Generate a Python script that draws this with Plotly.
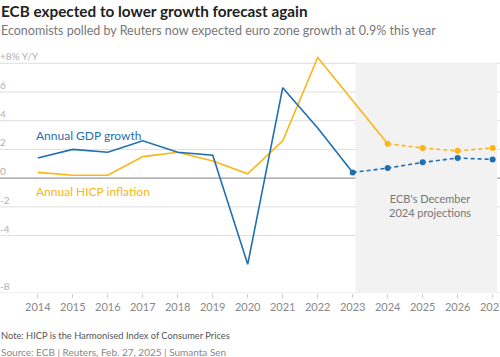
import plotly.graph_objects as go

years = list(range(2014, 2028))
gdp = [1.4, 2.0, 1.8, 2.6, 1.8, 1.6, -6.0, 6.3, 3.5, 0.4, 0.7, 1.1, 1.4, 1.3]
hicp = [0.4, 0.2, 0.2, 1.5, 1.8, 1.2, 0.3, 2.6, 8.4, 5.4, 2.4, 2.1, 1.9, 2.1]
y_ticks = [-8, -4, -2, 0, 2, 4, 6, 8]
y_labels = ["-8", "-4", "-2", "0", "2", "4", "6", "+8% Y/Y"]

BLUE = "#1f6fb2"
YELLOW = "#fbb515"
FONT = "Lato"
DASH = "4px,3px"

hist_end = years.index(2023)
proj_start_gdp = years.index(2023)
proj_start_hicp = years.index(2024)

fig = go.Figure()

# projection shading
fig.add_shape(type="rect", xref="x", yref="y", x0=2023.08, x1=2027.13, y0=-8, y1=8,
              fillcolor="#f2f2f2", line_width=0, layer="below")

# gridlines and y labels
for v, lab in zip(y_ticks, y_labels):
    fig.add_shape(type="line", xref="paper", yref="y", x0=0, x1=1, y0=v, y1=v,
                  line=dict(color="#9a9a9a" if v == 0 else "#dedede", width=1.2 if v == 0 else 1),
                  layer="below")
    fig.add_annotation(xref="paper", yref="y", x=0, y=v, text=lab,
                       showarrow=False, xanchor="left", yanchor="bottom", yshift=-1, xshift=-2,
                       font=dict(family=FONT, size=10, color="#b0b0b0"))

# HICP
fig.add_trace(go.Scatter(x=years[:proj_start_hicp + 1], y=hicp[:proj_start_hicp + 1], mode="lines",
                         line=dict(color=YELLOW, width=1.6), hoverinfo="skip"))
fig.add_trace(go.Scatter(x=years[proj_start_hicp:], y=hicp[proj_start_hicp:], mode="lines+markers",
                         line=dict(color=YELLOW, width=1.6, dash=DASH),
                         marker=dict(size=6, color=YELLOW), hoverinfo="skip"))
# GDP
fig.add_trace(go.Scatter(x=years[:hist_end + 1], y=gdp[:hist_end + 1], mode="lines",
                         line=dict(color=BLUE, width=1.6), hoverinfo="skip"))
fig.add_trace(go.Scatter(x=years[proj_start_gdp:], y=gdp[proj_start_gdp:], mode="lines+markers",
                         line=dict(color=BLUE, width=1.6, dash=DASH),
                         marker=dict(size=6, color=BLUE), hoverinfo="skip"))

fig.add_annotation(x=2013.9, y=2.95, xref="x", yref="y", text="Annual GDP growth", showarrow=False,
                   xanchor="left", yanchor="middle", font=dict(family=FONT, size=12, color=BLUE))
fig.add_annotation(x=2013.9, y=-0.95, xref="x", yref="y", text="Annual HICP inflation", showarrow=False,
                   xanchor="left", yanchor="middle", font=dict(family=FONT, size=12, color=YELLOW))
fig.add_annotation(x=2025.2, y=-1.9, xref="x", yref="y", text="ECB's December<br>2024 projections",
                   showarrow=False, xanchor="center", yanchor="middle", align="center",
                   font=dict(family=FONT, size=11, color="#777777"))

fig.update_layout(
    width=500, height=357,
    margin=dict(l=0, r=0, t=55, b=64, autoexpand=False),
    paper_bgcolor="white", plot_bgcolor="white",
    showlegend=False,
    xaxis=dict(range=[2012.92, 2027.21], tickmode="array", tickvals=years,
               ticktext=[str(y) for y in years], showgrid=False, zeroline=False,
               ticks="outside", ticklen=4, tickcolor="#cccccc", ticklabeloverflow="allow",
               automargin=False,
               showline=False, tickfont=dict(family=FONT, size=11, color="#888888"), fixedrange=True),
    yaxis=dict(range=[-8, 8.577], showgrid=False, zeroline=False, showticklabels=False, fixedrange=True),
)
fig.add_annotation(xref="paper", yref="paper", x=0, y=1, yshift=55, xshift=-1,
                   text="<b>ECB expected to lower growth forecast again</b>",
                   showarrow=False, xanchor="left", yanchor="top", font=dict(family=FONT, size=15.3, color="#222222"))
fig.add_annotation(xref="paper", yref="paper", x=0, y=1, yshift=34, xshift=-1,
                   text="Economists polled by Reuters now expected euro zone growth at 0.9% this year",
                   showarrow=False, xanchor="left", yanchor="top", font=dict(family=FONT, size=12.5, color="#777777"))
fig.add_annotation(xref="paper", yref="paper", x=0, y=0, yshift=-35, xshift=-1,
                   text="Note: HICP is the Harmonised Index of Consumer Prices",
                   showarrow=False, xanchor="left", yanchor="top", font=dict(family=FONT, size=9.3, color="#555555"))
fig.add_annotation(xref="paper", yref="paper", x=0, y=0, yshift=-51, xshift=-1,
                   text="Source: ECB | Reuters, Feb. 27, 2025 | Sumanta Sen",
                   showarrow=False, xanchor="left", yanchor="top", font=dict(family=FONT, size=10, color="#888888"))

fig.write_html("out.html", config={"displayModeBar": False},
               post_script="document.body.style.margin='0';document.body.style.overflow='hidden';")
